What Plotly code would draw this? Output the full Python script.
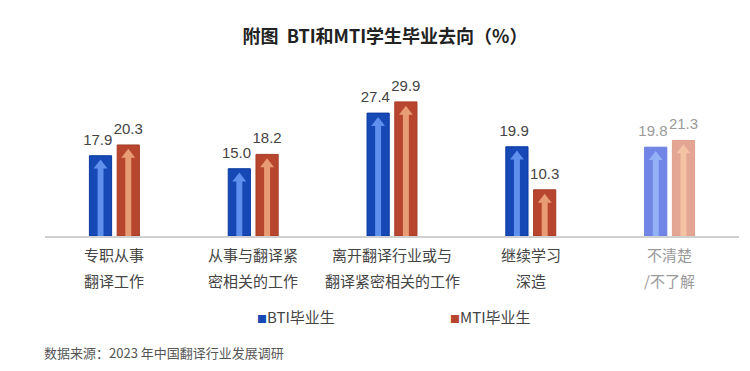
import plotly.graph_objects as go

categories = ["专职从事<br>翻译工作", "从事与翻译紧<br>密相关的工作", "离开翻译行业或与<br>翻译紧密相关的工作",
              "继续学习<br>深造", "不清楚<br>/不了解"]
bti_values = [17.9, 15.0, 27.4, 19.9, 19.8]
mti_values = [20.3, 18.2, 29.9, 10.3, 21.3]
series_names = ["BTI毕业生", "MTI毕业生"]

bti_bar = ["#1649b6"] * 4 + ["#7085e6"]
bti_line = ["#0b3a9e"] * 4 + ["#6a7fe0"]
bti_arrow = ["#5f90ee"] * 4 + ["#93b2f6"]
mti_bar = ["#b8462f"] * 4 + ["#e4a594"]
mti_line = ["#a63d28"] * 4 + ["#dfa08e"]
mti_arrow = ["#e89c74"] * 4 + ["#f4c3a4"]
label_col = ["#444444"] * 4 + ["#9a9a9a"]

xs = list(range(len(categories)))
FONT = "Noto Sans CJK SC"
NUMFONT = "Liberation Sans"

fig = go.Figure()

def add_series(vals, offset, bar_col, line_col, arrow_col, text_dx):
    center = offset + 0.08
    fig.add_trace(go.Bar(
        x=xs, y=vals, offset=offset, width=0.16,
        marker=dict(color=bar_col, line=dict(color=line_col, width=1)),
        showlegend=False, hoverinfo="skip"))
    fig.add_trace(go.Bar(
        x=xs, y=[v - 2.5 for v in vals], offset=center - 0.0215, width=0.043,
        marker=dict(color=arrow_col, line=dict(width=0)),
        showlegend=False, hoverinfo="skip"))
    fig.add_trace(go.Scatter(
        x=[i + center for i in xs], y=[v - 2.2 for v in vals], mode="markers",
        marker=dict(symbol="triangle-up", size=12, color=arrow_col, line=dict(width=0)),
        showlegend=False, hoverinfo="skip"))
    fig.add_trace(go.Scatter(
        x=[i + center + text_dx for i in xs], y=vals, mode="markers+text",
        marker=dict(size=10, opacity=0),
        text=[f"{v:.1f}" for v in vals], textposition="top center",
        textfont=dict(family=NUMFONT, size=15, color=label_col),
        cliponaxis=False, showlegend=False, hoverinfo="skip"))

add_series(bti_values, -0.18, bti_bar, bti_line, bti_arrow, -0.02)
add_series(mti_values, 0.02, mti_bar, mti_line, mti_arrow, 0.0)

annotations = []
for i, cat in enumerate(categories):
    lines = cat.split("<br>")
    for j, ln in enumerate(lines):
        annotations.append(dict(
            x=i, y=0, xref="x", yref="paper", yanchor="middle", yshift=-18 - 26 * j,
            text=ln, showarrow=False,
            font=dict(family=FONT, size=15, color=label_col[i])))

# legend
leg_cols = ["#1649b6", "#b8462f"]
leg_x = [0.303, 0.580]
for name, col, lx in zip(series_names, leg_cols, leg_x):
    annotations.append(dict(
        x=lx, y=0, xref="paper", yref="paper", yshift=-80, xanchor="left", yanchor="middle",
        text=f"<span style='color:{col};font-size:10px'>■</span>{name}",
        showarrow=False, font=dict(family=FONT, size=15, color="#444444")))

annotations.append(dict(
    x=0, y=0, xref="paper", yref="paper", xshift=-3, yshift=-116, xanchor="left", yanchor="middle",
    text="数据来源：2023 年中国翻译行业发展调研", showarrow=False,
    font=dict(family=FONT, size=13, color="#555555")))

fig.update_layout(
    width=742, height=363,
    margin=dict(l=36.5, r=10.5, t=79.5, b=135),
    paper_bgcolor="white", plot_bgcolor="white",
    barmode="overlay",
    title=dict(text="<b>附图  BTI和MTI学生毕业去向（%）</b>", x=(385 - 8) / 742, xanchor="center",
               y=1 - 29 / 363, yanchor="middle",
               font=dict(family=FONT, size=18, color="#222222")),
    xaxis=dict(range=[-0.5, 4.5], showticklabels=False, showgrid=False, zeroline=False,
               showline=True, linecolor="#d0d0d0", linewidth=1.5, ticks=""),
    yaxis=dict(range=[0, 33], visible=False),
    annotations=annotations,
)

fig.write_html("out.html")
